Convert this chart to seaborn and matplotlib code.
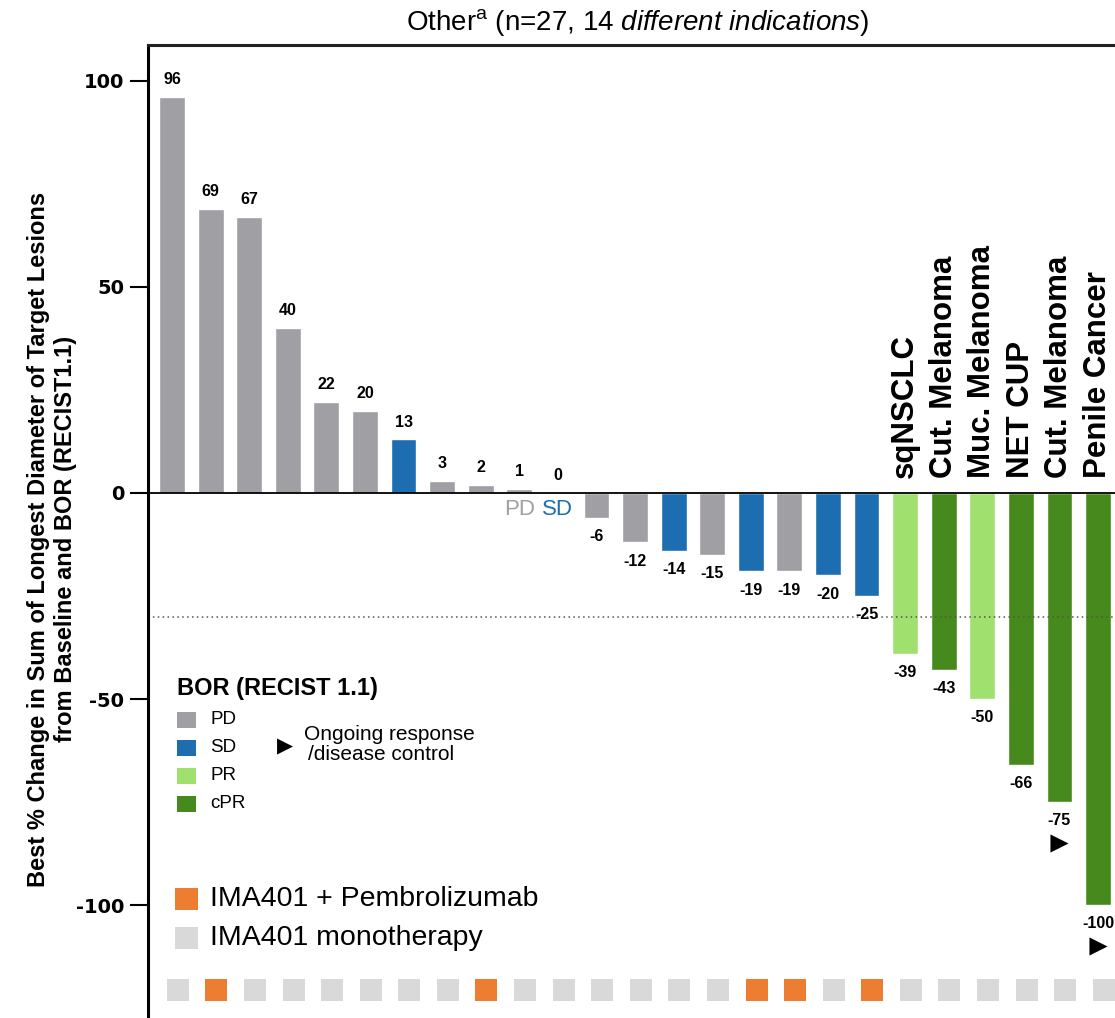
import numpy as np
import pandas as pd
import matplotlib
matplotlib.use("Agg")
import matplotlib.pyplot as plt
from matplotlib.patches import Rectangle
from matplotlib import font_manager as fm
import seaborn as sns

# ---------------- data ----------------
values = [96, 69, 67, 40, 22, 20, 13, 3, 2, 1, 0, -6, -12, -14, -15, -19, -19, -20, -25,
          -39, -43, -50, -66, -75, -100]
bor = ["PD", "PD", "PD", "PD", "PD", "PD", "SD", "PD", "PD", "PD", "SD", "PD", "PD", "SD",
       "PD", "SD", "PD", "SD", "SD", "PR", "cPR", "PR", "cPR", "cPR", "cPR"]
treatment = ["mono", "combo", "mono", "mono", "mono", "mono", "mono", "mono", "combo", "mono",
             "mono", "mono", "mono", "mono", "mono", "combo", "combo", "mono", "combo", "mono",
             "mono", "mono", "mono", "mono", "mono"]
indication = [""] * 19 + ["sqNSCLC", "Cut. Melanoma", "Muc. Melanoma", "NET CUP",
                          "Cut. Melanoma", "Penile Cancer"]
ongoing = [False] * 23 + [True, True]
bor_levels = ["PD", "SD", "PR", "cPR"]
bor_colors = {"PD": "#9f9fa4", "SD": "#1c6eb0", "PR": "#9fe06e", "cPR": "#468a1e"}
trt_colors = {"combo": "#ed7d31", "mono": "#d9d9d9"}
trt_labels = {"combo": "IMA401 + Pembrolizumab", "mono": "IMA401 monotherapy"}
yticks = [-100, -50, 0, 50, 100]

pids = [f"P{i+1}" for i in range(len(values))]
df = pd.DataFrame({"pid": pids, "value": values, "bor": bor, "trt": treatment})

# ---------------- style ----------------
sns.set_style("white")
names = {f.name for f in fm.fontManager.ttflist}
narrow = "Liberation Sans Narrow" in names
plt.rcParams["font.family"] = ["Liberation Sans", "DejaVu Sans"]
plt.rcParams["text.color"] = "black"
plt.rcParams["axes.labelcolor"] = "black"
plt.rcParams["ytick.color"] = "black"
plt.rcParams["xtick.color"] = "black"
plt.rcParams["mathtext.fontset"] = "custom"
plt.rcParams["mathtext.rm"] = "Liberation Sans"
plt.rcParams["mathtext.it"] = "Liberation Sans:italic"

W, H = 1115, 1018
fig = plt.figure(figsize=(W / 100, H / 100), dpi=100)
ax = fig.add_axes([148 / W, 0, (W - 148) / W, (H - 45) / H])


def fx(p):
    return p / W


def fy(p):
    return 1 - p / H


sns.barplot(data=df, x="pid", y="value", hue="bor", order=pids, hue_order=bor_levels,
            palette=bor_colors, dodge=False, width=0.67, saturation=1, legend=False, ax=ax)

ax.set_xlim(-0.622, 24.44)
ax.set_ylim(-127.4, 108.7)

# reference lines
ax.axhline(0, color="black", lw=1.3, zorder=3)
ax.axhline(-30, color="#555555", lw=1.1, ls=(0, (1, 2.2)), zorder=1)

xs = np.arange(len(values))
# value labels
for x, v in zip(xs, values):
    off = 12.5 if v >= 0 else -13.5
    ax.annotate(f"{v}", (x, v), xytext=(0, off), textcoords="offset points",
                ha="center", va="center", fontsize=11.5, fontweight="bold", color="black")

# PD / SD marker text
ax.text(9, -4.1, "PD", color=bor_colors["PD"], ha="center", va="center", fontsize=16)
ax.text(10, -4.1, "SD", color=bor_colors["SD"], ha="center", va="center", fontsize=16)

# indications
for x, name in zip(xs, indication):
    if name:
        ax.text(x, 3.6, name, rotation=90, ha="center", va="bottom",
                fontsize=22.5, fontweight="bold", color="black")

# ongoing response triangles
ox = [x for x, o in zip(xs, ongoing) if o]
oy = [v - 10 for v, o in zip(values, ongoing) if o]
ax.scatter(ox, oy, marker=">", s=170, color="black", linewidths=0, zorder=4)

# treatment squares
ax.scatter(xs + 0.15, np.full(len(xs), -120.6), marker="s", s=250,
           c=[trt_colors[t] for t in treatment], linewidths=0, zorder=4, clip_on=False)

# axes styling
ax.set_xticks([])
ax.set_xlabel("")
ax.set_ylabel("")
ax.set_yticks(yticks)
ax.set_yticklabels([str(t) for t in yticks], fontweight="bold",
                   fontfamily=["DejaVu Sans"], fontsize=14, color="black")
ax.tick_params(axis="y", length=13, width=1.5, pad=4, color="black", left=True)
for s in ["right", "bottom"]:
    ax.spines[s].set_visible(False)
ax.spines["left"].set_linewidth(2.2)
ax.spines["left"].set_color("black")
ax.spines["top"].set_linewidth(2.2)
ax.spines["top"].set_color("#222222")

# y label
ylab = "Best % Change in Sum of Longest Diameter of Target Lesions\nfrom Baseline and BOR (RECIST1.1)"
if narrow:
    fig.text(fx(52), fy(539), ylab, rotation=90, ha="center", va="center", fontsize=18.5,
             fontweight="bold", family=["Liberation Sans Narrow", "Liberation Sans"],
             linespacing=1.25, multialignment="center", color="black")
else:
    fig.text(fx(52), fy(539), ylab, rotation=90, ha="center", va="center", fontsize=17,
             fontweight="bold", linespacing=1.25, multialignment="center", color="black")

# title
fig.text(fx(638), fy(22), r"Other$^{\mathrm{a}}$ (n=27, $\mathit{14\ different\ indications)}$",
         ha="center", va="center", fontsize=20, color="black")

# BOR legend
fig.text(fx(177), fy(689), "BOR (RECIST 1.1)", ha="left", va="center", fontsize=17,
         fontweight="bold")
for i, lvl in enumerate(bor_levels):
    cy = 720 + 28 * i
    fig.patches.append(Rectangle((fx(177), fy(cy + 8)), 19 / W, 16 / H,
                                 transform=fig.transFigure, color=bor_colors[lvl], lw=0))
    fig.text(fx(210), fy(cy), lvl, ha="left", va="center", fontsize=13.5)
fig.text(fx(285), fy(746), "\u25B6", ha="center", va="center", fontsize=15,
         family=["DejaVu Sans"])
fig.text(fx(304), fy(734), "Ongoing response", ha="left", va="center", fontsize=15)
fig.text(fx(308), fy(755), "/disease control", ha="left", va="center", fontsize=15)

# treatment legend
for i, t in enumerate(["combo", "mono"]):
    cy = 899 + 39 * i
    fig.patches.append(Rectangle((fx(175), fy(cy + 11)), 23 / W, 22 / H,
                                 transform=fig.transFigure, color=trt_colors[t], lw=0))
    fig.text(fx(210), fy(cy), trt_labels[t], ha="left", va="center", fontsize=20.5)

fig.savefig("out.png", dpi=100)
